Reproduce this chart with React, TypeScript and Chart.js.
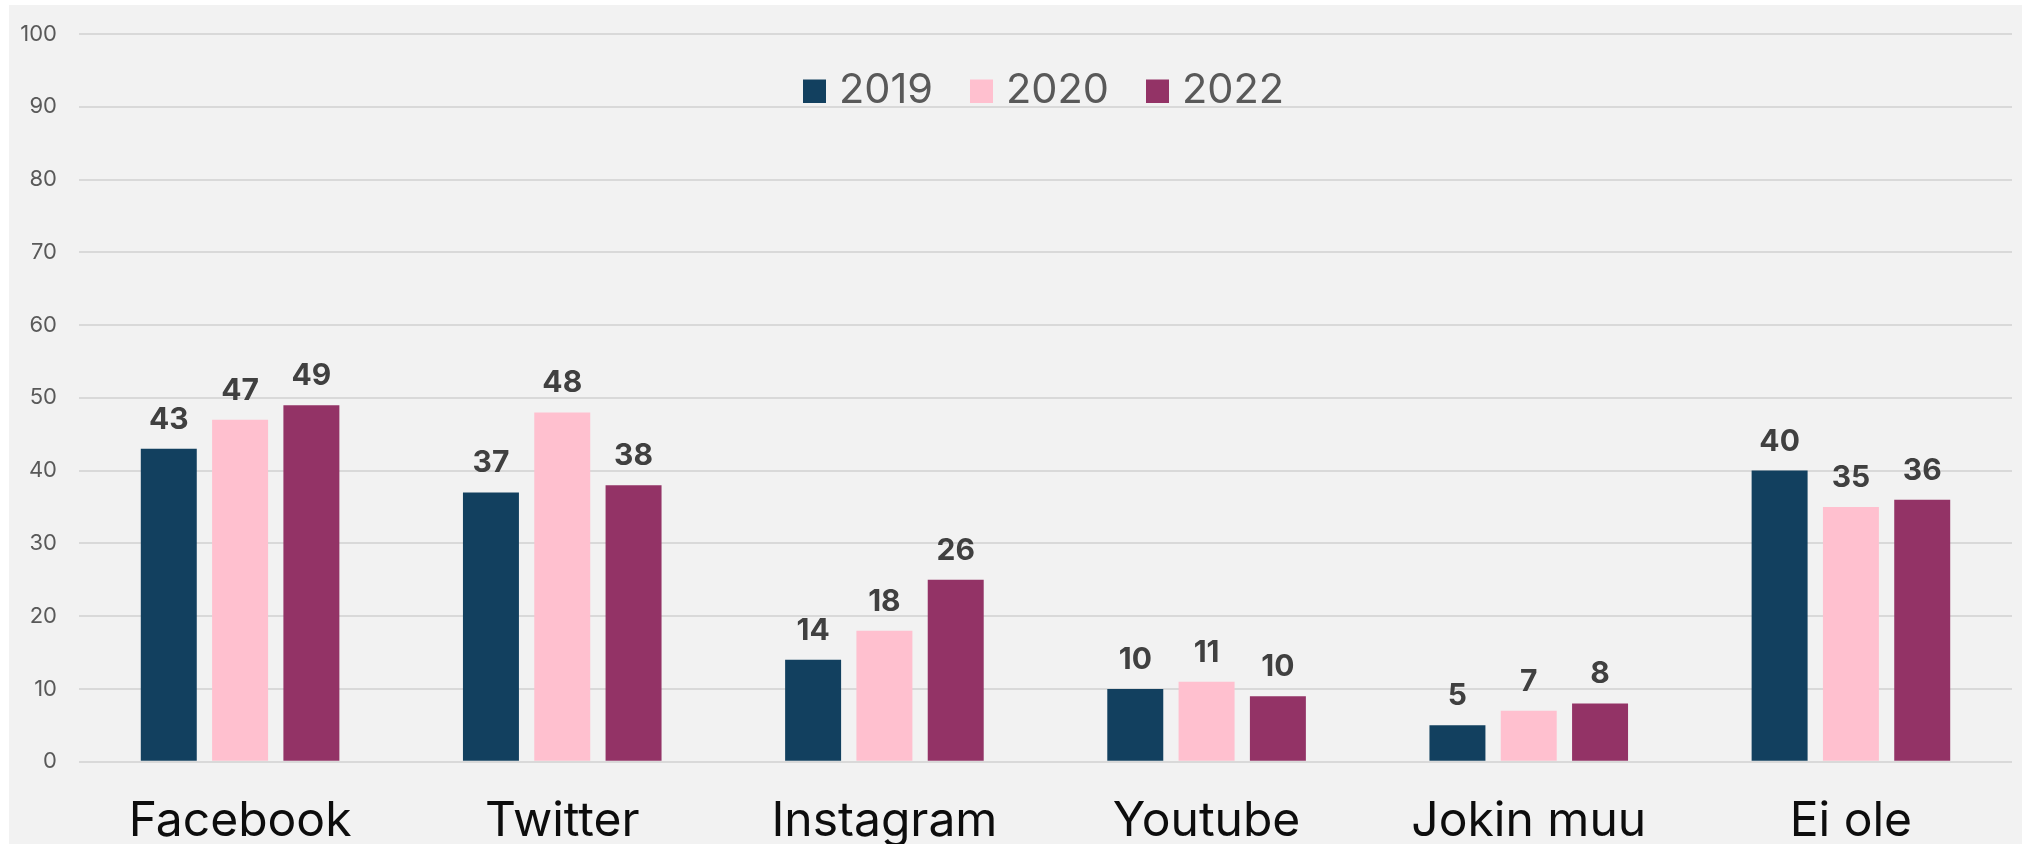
import React, { useEffect, useRef } from "react";
import { Chart, registerables } from "chart.js";

Chart.register(...registerables);

const categories = ["Facebook", "Twitter", "Instagram", "Youtube", "Jokin muu", "Ei ole"];
const seriesNames = ["2019", "2020", "2022"];
const values2019 = [43, 37, 14, 10, 5, 40];
const values2020 = [47, 48, 18, 11, 7, 35];
const values2022 = [49, 38, 25, 9, 8, 36];
const labels2019 = ["43", "37", "14", "10", "5", "40"];
const labels2020 = ["47", "48", "18", "11", "7", "35"];
const labels2022 = ["49", "38", "26", "10", "8", "36"];
const yMin = 0;
const yMax = 100;
const yStep = 10;

const colors = ["#12405F", "#FFC0CF", "#933366"];

const FONT = "Inter, 'Noto Sans', sans-serif";

const barLabelPlugin = {
  id: "barLabels",
  afterDatasetsDraw(chart: any) {
    const ctx = chart.ctx;
    ctx.save();
    ctx.font = `bold 30px ${FONT}`;
    ctx.fillStyle = "#404040";
    ctx.textAlign = "center";
    ctx.textBaseline = "alphabetic";
    chart.data.datasets.forEach((ds: any, i: number) => {
      const meta = chart.getDatasetMeta(i);
      meta.data.forEach((bar: any, j: number) => {
        ctx.fillText(ds.valueLabels[j], bar.x, bar.y - 20);
      });
    });
    ctx.restore();
  },
};

// Legend drawn inside the plot area, overlapping the top grid lines (as in the reference)
const insideLegendPlugin = {
  id: "insideLegend",
  afterDraw(chart: any) {
    const ctx = chart.ctx;
    const area = chart.chartArea;
    const boxSize = 23;
    const boxGap = 13;
    const itemGap = 37;
    ctx.save();
    ctx.font = `41.5px ${FONT}`;
    const items = chart.data.datasets.map((ds: any) => ({
      text: String(ds.label),
      color: ds.backgroundColor,
      w: ctx.measureText(String(ds.label)).width,
    }));
    const total =
      items.reduce((s: number, it: any) => s + boxSize + boxGap + it.w, 0) +
      itemGap * (items.length - 1);
    let x = (area.left + area.right) / 2 - 2 - total / 2;
    const baseline = area.top + 69;
    ctx.textAlign = "left";
    ctx.textBaseline = "alphabetic";
    items.forEach((it: any) => {
      ctx.fillStyle = it.color;
      ctx.fillRect(Math.round(x), baseline - 23.5, boxSize, 23.5);
      ctx.fillStyle = "#595959";
      ctx.fillText(it.text, x + boxSize + boxGap, baseline);
      x += boxSize + boxGap + it.w + itemGap;
    });
    ctx.restore();
  },
};

export default function App() {
  const ref = useRef<HTMLCanvasElement | null>(null);

  useEffect(() => {
    if (!ref.current) return;
    const chart = new Chart(ref.current, {
      type: "bar",
      data: {
        labels: categories,
        datasets: [
          { label: seriesNames[0], data: values2019, backgroundColor: colors[0], valueLabels: labels2019 } as any,
          { label: seriesNames[1], data: values2020, backgroundColor: colors[1], valueLabels: labels2020 } as any,
          { label: seriesNames[2], data: values2022, backgroundColor: colors[2], valueLabels: labels2022 } as any,
        ],
      },
      options: {
        animation: false,
        responsive: false,
        maintainAspectRatio: false,
        layout: { padding: { top: 29, right: 10, left: 0, bottom: 0 } },
        datasets: {
          bar: { categoryPercentage: 0.664, barPercentage: 0.785, borderWidth: 0 },
        },
        plugins: {
          legend: { display: false },
          tooltip: { enabled: false },
        },
        scales: {
          x: {
            grid: { display: false, drawTicks: false },
            border: { display: false },
            ticks: {
              color: "#0d0d0d",
              font: { family: FONT, size: 48 },
              padding: 31.5,
              maxRotation: 0,
              autoSkip: false,
            },
            afterFit: (scale: any) => {
              scale.height = 82.3;
            },
          },
          y: {
            min: yMin,
            max: yMax,
            grid: {
              color: "#d9d9d9",
              lineWidth: 2,
              drawTicks: true,
              tickLength: 22,
              tickColor: "rgba(0,0,0,0)",
            },
            border: { display: false },
            ticks: {
              stepSize: yStep,
              color: "#595959",
              font: { family: FONT, size: 22 },
              padding: 0,
            },
            afterFit: (scale: any) => {
              scale.width = 70;
            },
          },
        },
      },
      plugins: [barLabelPlugin, insideLegendPlugin],
    });
    return () => chart.destroy();
  }, []);

  return (
    <div
      style={{
        position: "absolute",
        left: 9,
        top: 5,
        width: 2013,
        height: 839,
        background: "#f2f2f2",
      }}
    >
      <canvas ref={ref} width={2013} height={839} style={{ display: "block" }} />
    </div>
  );
}
